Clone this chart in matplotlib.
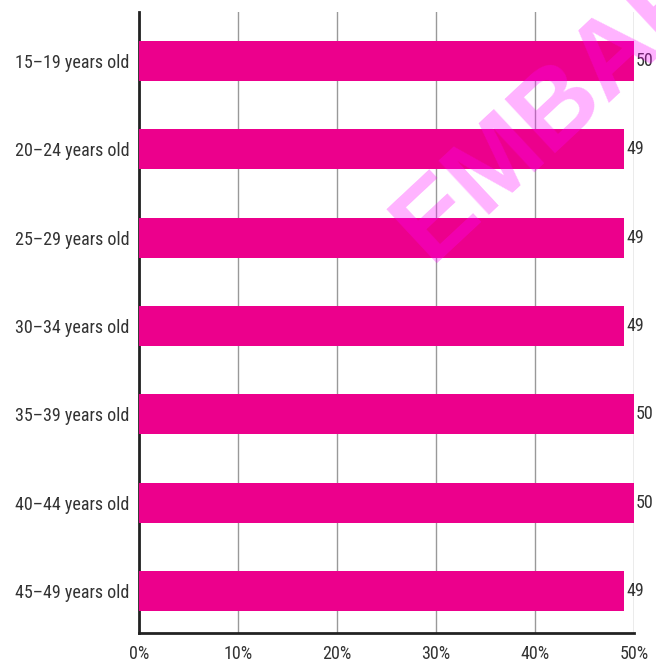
import matplotlib
matplotlib.use('Agg')
import matplotlib.pyplot as plt

plt.rcParams['font.family'] = ['Roboto Condensed', 'DejaVu Sans']

# Daten
age_groups = ['15–19 years old', '20–24 years old', '25–29 years old', '30–34 years old',
              '35–39 years old', '40–44 years old', '45–49 years old']
shares = [50, 49, 49, 49, 50, 50, 49]
x_ticks = [0, 10, 20, 30, 40, 50]
x_tick_labels = ['0%', '10%', '20%', '30%', '40%', '50%']

bar_color = '#EC008C'
text_color = '#333333'

fig = plt.figure(figsize=(6.56, 6.62), dpi=100)
ax = fig.add_axes([139/656, 29/662, 495/656, 621/662])

y = list(range(len(age_groups)))
ax.barh(y, shares, height=0.453, color=bar_color, zorder=3)

# Werte rechts neben den Balken
for yi, v in zip(y, shares):
    ax.text(v + 0.2, yi, f'{v}', va='center', ha='left', fontsize=13, color=text_color, zorder=4)

ax.set_xlim(0, 50)
ax.set_ylim(6.476, -0.555)
ax.set_xticks(x_ticks)
ax.set_xticklabels(x_tick_labels)
ax.set_yticks(y)
ax.set_yticklabels(age_groups)
ax.tick_params(axis='both', length=0, labelsize=13, labelcolor=text_color)
ax.tick_params(axis='x', pad=8.5)
ax.tick_params(axis='y', pad=7)

# Gitterlinien
ax.grid(axis='x', color='#999999', linewidth=1, zorder=0)
ax.set_axisbelow(True)

for s in ['top', 'right']:
    ax.spines[s].set_visible(False)
ax.spines['left'].set_linewidth(2)
ax.spines['bottom'].set_linewidth(2)
ax.spines['left'].set_color('#222222')
ax.spines['bottom'].set_color('#222222')

# Wasserzeichen
fig.text(430/656, (662-263)/662, 'EMBARGO', fontsize=78, fontweight='bold',
         family=['Liberation Sans', 'DejaVu Sans'], color='#FF00FF', alpha=0.3,
         rotation=43, rotation_mode='anchor', ha='left', va='baseline', zorder=10)

fig.savefig('out.png', dpi=100)
